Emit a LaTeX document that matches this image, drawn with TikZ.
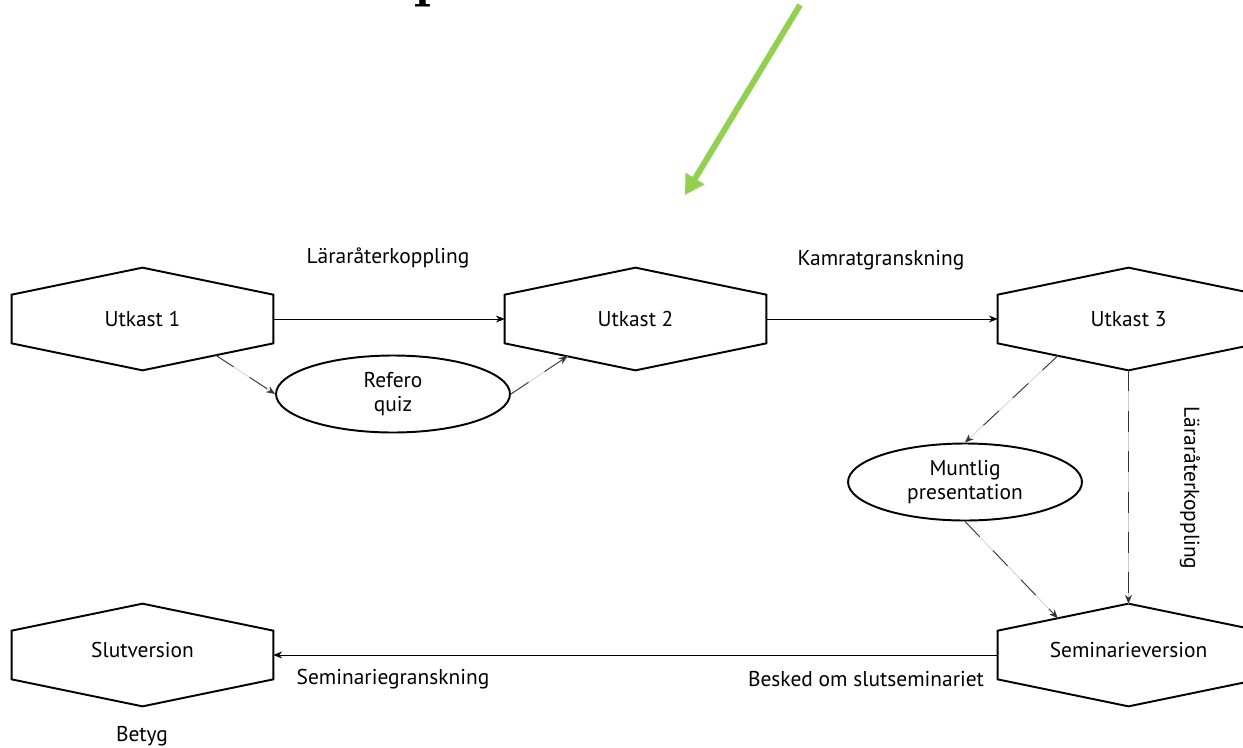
\documentclass[tikz,border=0pt]{standalone}
\usepackage{fontspec}
\newfontfamily\diagfont{PT Sans}
\usetikzlibrary{calc,arrows.meta,shapes.geometric}
\definecolor{arrowgreen}{RGB}{146,208,80}

\begin{document}
\begin{tikzpicture}[x=0.02cm,y=-0.02cm,
    txt/.style={font=\diagfont\fontsize{12.2}{14}\selectfont},
    hexbox/.style={txt,minimum width=5.22cm,minimum height=0.96cm,inner sep=0pt},
    lifted/.style={text depth=6pt},
    hexline/.style={line width=1.1pt},
    oval/.style={txt,draw,ellipse,line width=1.1pt,minimum width=4.68cm,minimum height=1.54cm,inner sep=0pt,align=center},
    lbl/.style={txt,inner sep=0pt},
    flow/.style={-{Stealth[length=5pt,width=4pt]},line width=0.5pt},
    loose/.style={flow,draw=black!80,dash pattern=on 12pt off 11pt,preaction={draw=black!20,solid,line width=0.4pt,-}},
    pointer/.style={draw=arrowgreen,line width=3.4pt,-{Triangle[length=11pt,width=12pt]}}]

        \useasboundingbox (0,0) rectangle (1243,747);
        \clip (0,0) rectangle (1243,747);

        % the title above, cut by the frame
        \node[anchor=base west,inner sep=0pt,font=\fontsize{34}{34}\selectfont\bfseries] (title) at (413,-5) {p};

        % the green pointer
        \coordinate (gs) at (800,5);
        \coordinate (ge) at (685,195);
        \draw[pointer] (gs) -- (ge);

        % the versions (hexagons)
        \node[hexbox] (u1) at (142.5,319) {Utkast 1};
        \node[hexbox] (u2) at (635.5,319) {Utkast 2};
        \node[hexbox] (u3) at (1128.5,319) {Utkast 3};
        \node[hexbox,lifted] (slut) at (142.5,655) {Slutversion};
        \node[hexbox,lifted] (sem) at (1128.5,655) {Seminarieversion};

        \foreach \n in {u1,u2,u3,slut,sem} {
            \coordinate (\n-t) at ($(\n.north)+(0,-27)$);
            \coordinate (\n-b) at ($(\n.south)+(0,27)$);
            \draw[hexline] (\n.north west) -- (\n-t) -- (\n.north east) -- (\n.south east)
                -- (\n-b) -- (\n.south west) -- cycle;
        }

        % the activities (ovals)
        \node[oval] (ref) at (393,394) {Refero\\quiz};
        \node[oval] (munt) at (965,482) {Muntlig\\presentation};

        % the texts
        \node[lbl] (fb1) at (388,258) {Läraråterkoppling};
        \node[lbl] (peer) at (881,260) {Kamratgranskning};
        \node[lbl,rotate=-90] (fb2) at (1190,488) {Läraråterkoppling};
        \node[lbl] (semrev) at (393,679) {Seminariegranskning};
        \node[lbl] (notice) at (866,679) {Besked om slutseminariet};
        \node[lbl] (grade) at (142,736) {Betyg};

        % draw the arrows
        \draw[flow] (u1.east) -- (u2.west);
        \draw[flow] (u2.east) -- (u3.west);
        \draw[loose] ($(u1.south east)!0.44!(u1-b)$) -- (ref.west);
        \draw[loose] (ref.east) -- ($(u2.south west)!0.48!(u2-b)$);
        \draw[loose] ($(u3.south west)!0.46!(u3-b)$) -- (munt.north);
        \draw[loose] (u3-b) -- (sem-t);
        \draw[loose] (munt.south) -- ($(sem.north west)!0.46!(sem-t)$);
        \draw[flow] (sem.west) -- (slut.east);

    \end{tikzpicture}
\end{document}
